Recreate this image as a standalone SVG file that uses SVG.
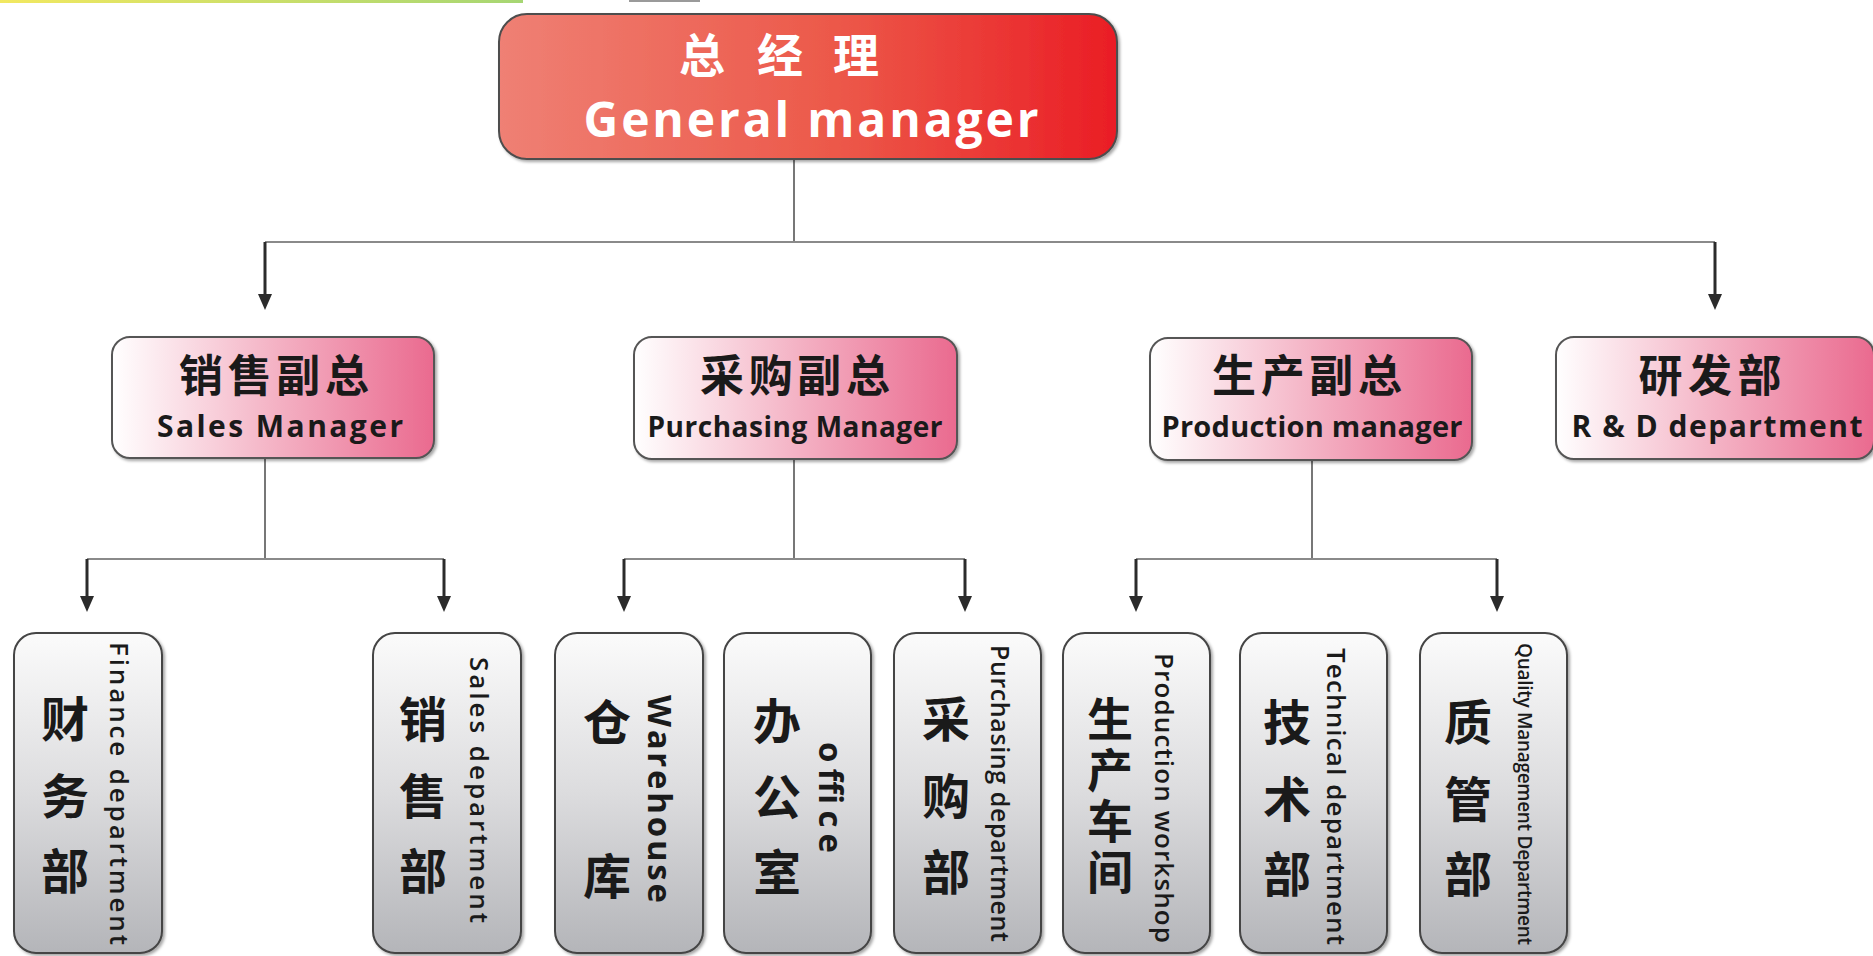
<svg xmlns="http://www.w3.org/2000/svg" width="1873" height="956" viewBox="0 0 1873 956">
<style>
.cn{font-family:"Noto Sans CJK SC",sans-serif;font-weight:700;fill:#1a1a1a}
.vt{writing-mode:vertical-rl;text-orientation:upright}
.en{font-family:"Open Sans","Noto Sans",sans-serif;font-weight:600;fill:#1a1a1a}
.b{font-weight:700}
.gm{fill:#fff}
.box1{fill:url(#gRed);stroke:#4d4d4d;stroke-width:2}
.box2{fill:url(#gPink);stroke:#555;stroke-width:2}
.box3{fill:url(#gGrey);stroke:#444;stroke-width:2}
.bus{fill:none;stroke:#8a8a8a;stroke-width:2.2}
.stem{fill:none;stroke:#555;stroke-width:1.6}
.arr{fill:none;stroke:#2b2b2b;stroke-width:3;marker-end:url(#ah)}
</style>
<defs>
<linearGradient id="gRed" x1="0" y1="0" x2="1" y2="0">
<stop offset="0" stop-color="#ef8074"/><stop offset="0.55" stop-color="#ec5849"/><stop offset="1" stop-color="#ea1d25"/>
</linearGradient>
<linearGradient id="gPink" x1="0" y1="0" x2="1" y2="0">
<stop offset="0" stop-color="#ffffff"/><stop offset="0.5" stop-color="#f4b3c5"/><stop offset="1" stop-color="#ea6a8f"/>
</linearGradient>
<linearGradient id="gGrey" x1="0" y1="0" x2="0" y2="1">
<stop offset="0" stop-color="#fbfbfb"/><stop offset="0.5" stop-color="#dcdcde"/><stop offset="1" stop-color="#b4b5b9"/>
</linearGradient>
<linearGradient id="gTop" x1="0" y1="0" x2="1" y2="0">
<stop offset="0" stop-color="#f2e860"/><stop offset="1" stop-color="#a6d673"/>
</linearGradient>
<filter id="sh" x="-10%" y="-10%" width="120%" height="120%">
<feDropShadow dx="2" dy="2" stdDeviation="1.5" flood-color="#000" flood-opacity="0.35"/>
</filter>
<marker id="ah" markerUnits="userSpaceOnUse" markerWidth="16" markerHeight="14" viewBox="0 0 16 14" refX="3" refY="7" orient="auto">
<path d="M0,0 L16,7 L0,14 z" fill="#2b2b2b"/>
</marker>
</defs>
<rect width="1873" height="956" fill="#fff"/>
<rect x="0" y="0" width="523" height="3" fill="url(#gTop)"/>
<rect x="629" y="0" width="71" height="2" fill="#9a9a9a"/>

<g id="connectors">
<path class="stem" d="M794,159 V242"/>
<path class="bus" d="M265,242 H1715"/>
<path class="arr" d="M265,242 V297"/>
<path class="arr" d="M1715,242 V297"/>
<path class="stem" d="M265,458 V559"/>
<path class="bus" d="M87,559 H444"/>
<path class="arr" d="M87,559 V599"/>
<path class="arr" d="M444,559 V599"/>
<path class="stem" d="M794,459 V559"/>
<path class="bus" d="M624,559 H965"/>
<path class="arr" d="M624,559 V599"/>
<path class="arr" d="M965,559 V599"/>
<path class="stem" d="M1312,460 V559"/>
<path class="bus" d="M1136,559 H1497"/>
<path class="arr" d="M1136,559 V599"/>
<path class="arr" d="M1497,559 V599"/>
</g>

<g id="general-manager">
<rect class="box1" x="499" y="14" width="618" height="145" rx="28" filter="url(#sh)"/>
<text class="cn gm" font-size="46" text-anchor="middle"><tspan x="702" y="72">总</tspan><tspan x="780" y="72">经</tspan><tspan x="856" y="72">理</tspan></text>
<text class="en b gm" font-size="48" x="811" y="137" text-anchor="middle" textLength="455" lengthAdjust="spacing">General manager</text>
</g>

<g id="sales-manager">
<rect class="box2" x="112" y="337" width="322" height="121" rx="18" filter="url(#sh)"/>
<text class="cn" font-size="44" x="274" y="392" text-anchor="middle" textLength="190" lengthAdjust="spacing">销售副总</text>
<text class="en b" font-size="30" x="280" y="437" text-anchor="middle" textLength="246" lengthAdjust="spacing">Sales Manager</text>
</g>
<g id="purchasing-manager">
<rect class="box2" x="634" y="337" width="323" height="122" rx="18" filter="url(#sh)"/>
<text class="cn" font-size="44" x="795" y="392" text-anchor="middle" textLength="190" lengthAdjust="spacing">采购副总</text>
<text class="en b" font-size="28" x="795" y="437" text-anchor="middle" textLength="295" lengthAdjust="spacing">Purchasing Manager</text>
</g>
<g id="production-manager">
<rect class="box2" x="1150" y="338" width="322" height="122" rx="18" filter="url(#sh)"/>
<text class="cn" font-size="44" x="1307" y="392" text-anchor="middle" textLength="190" lengthAdjust="spacing">生产副总</text>
<text class="en b" font-size="29" x="1312" y="437" text-anchor="middle" textLength="301" lengthAdjust="spacing">Production manager</text>
</g>
<g id="rd-department">
<rect class="box2" x="1556" y="337" width="318" height="122" rx="18" filter="url(#sh)"/>
<text class="cn" font-size="44" x="1710" y="392" text-anchor="middle" textLength="143" lengthAdjust="spacing">研发部</text>
<text class="en b" font-size="30" x="1717" y="437" text-anchor="middle" textLength="291" lengthAdjust="spacing">R &amp; D department</text>
</g>

<g id="finance-department">
<rect class="box3" x="14" y="633" width="148" height="320" rx="22" filter="url(#sh)"/>
<text class="cn" font-size="48" text-anchor="middle"><tspan x="65" y="737">财</tspan><tspan x="65" y="814">务</tspan><tspan x="65" y="889">部</tspan></text>
<text class="en" font-size="26" transform="translate(110,642) rotate(90)" textLength="303" lengthAdjust="spacing">Finance department</text>
</g>
<g id="sales-department">
<rect class="box3" x="373" y="633" width="148" height="320" rx="22" filter="url(#sh)"/>
<text class="cn" font-size="48" text-anchor="middle"><tspan x="423" y="737">销</tspan><tspan x="423" y="814">售</tspan><tspan x="423" y="889">部</tspan></text>
<text class="en" font-size="26" transform="translate(470,657) rotate(90)" textLength="266" lengthAdjust="spacing">Sales department</text>
</g>
<g id="warehouse">
<rect class="box3" x="555" y="633" width="148" height="320" rx="22" filter="url(#sh)"/>
<text class="cn" font-size="48" text-anchor="middle"><tspan x="607" y="740">仓</tspan><tspan x="607" y="894">库</tspan></text>
<text class="en b" font-size="33" transform="translate(648,695) rotate(90)" textLength="208" lengthAdjust="spacing">Warehouse</text>
</g>
<g id="office">
<rect class="box3" x="724" y="633" width="147" height="320" rx="22" filter="url(#sh)"/>
<text class="cn" font-size="48" text-anchor="middle"><tspan x="777" y="739">办</tspan><tspan x="777" y="815">公</tspan><tspan x="777" y="890">室</tspan></text>
<text class="en b" font-size="33" transform="translate(819,742) rotate(90)" textLength="111" lengthAdjust="spacing">office</text>
</g>
<g id="purchasing-department">
<rect class="box3" x="894" y="633" width="147" height="320" rx="22" filter="url(#sh)"/>
<text class="cn" font-size="48" text-anchor="middle"><tspan x="946" y="737">采</tspan><tspan x="946" y="814">购</tspan><tspan x="946" y="890">部</tspan></text>
<text class="en" font-size="25" transform="translate(991,645) rotate(90)" textLength="297" lengthAdjust="spacing">Purchasing department</text>
</g>
<g id="production-workshop">
<rect class="box3" x="1063" y="633" width="147" height="320" rx="22" filter="url(#sh)"/>
<text class="cn vt" font-size="46" x="1110" y="696" letter-spacing="5">生产车间</text>
<text class="en" font-size="26" transform="translate(1155,653) rotate(90)" textLength="290" lengthAdjust="spacing">Production workshop</text>
</g>
<g id="technical-department">
<rect class="box3" x="1240" y="633" width="147" height="320" rx="22" filter="url(#sh)"/>
<text class="cn" font-size="48" text-anchor="middle"><tspan x="1287" y="740">技</tspan><tspan x="1287" y="817">术</tspan><tspan x="1287" y="892">部</tspan></text>
<text class="en" font-size="26" transform="translate(1327,648) rotate(90)" textLength="297" lengthAdjust="spacing">Technical department</text>
</g>
<g id="quality-management-department">
<rect class="box3" x="1420" y="633" width="147" height="320" rx="22" filter="url(#sh)"/>
<text class="cn" font-size="48" text-anchor="middle"><tspan x="1468" y="740">质</tspan><tspan x="1468" y="817">管</tspan><tspan x="1468" y="892">部</tspan></text>
<text class="en" font-size="19" transform="translate(1518,643) rotate(90)" textLength="302" lengthAdjust="spacing">Quality Management Department</text>
</g>
</svg>
